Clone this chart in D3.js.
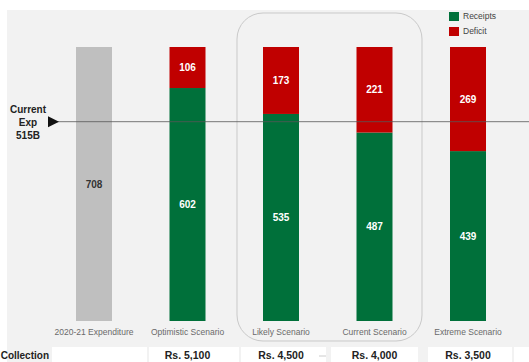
<!DOCTYPE html>
<html>
<head>
<meta charset="utf-8">
<script src="https://cdn.jsdelivr.net/npm/d3@7"></script>
<style>
  html, body { margin: 0; padding: 0; background: #ffffff; }
  svg { display: block; font-family: Arial, "Liberation Sans", sans-serif; }
</style>
</head>
<body>
<svg id="chart" width="529" height="362"></svg>
<script>
// Fiscal scenarios: receipts vs deficit (billions)
const categories = ["2020-21 Expenditure", "Optimistic Scenario", "Likely Scenario", "Current Scenario", "Extreme Scenario"];
const expenditure = [708, 0, 0, 0, 0];
const receipts = [0, 602, 535, 487, 439];
const deficit = [0, 106, 173, 221, 269];
const collection = ["", "Rs. 5,100", "Rs. 4,500", "Rs. 4,000", "Rs. 3,500"];
const currentExp = 515;
const legendItems = ["Receipts", "Deficit"];

const colors = { expenditure: "#bfbfbf", receipts: "#00703a", deficit: "#c00000" };

const svg = d3.select("#chart");
const W = 529, H = 362;

// panel background
svg.append("rect").attr("x", 7).attr("y", 10).attr("width", W - 7).attr("height", H - 10).attr("fill", "#f2f2f2");

const x = d3.scaleBand().domain(categories).range([47.25, 514.75]).paddingInner(0.615).paddingOuter(0.3075);
const y = d3.scaleLinear().domain([0, 708]).range([321, 47]);

// highlight box around the likely and current scenarios
svg.append("rect")
  .attr("x", 237).attr("y", 13).attr("width", 185).attr("height", 328)
  .attr("rx", 26).attr("ry", 26)
  .attr("fill", "none").attr("stroke", "#c9c9c9").attr("stroke-width", 1);

const table = categories.map((c, i) => ({ cat: c, expenditure: expenditure[i], receipts: receipts[i], deficit: deficit[i] }));
const keys = ["expenditure", "receipts", "deficit"];
const stacked = d3.stack().keys(keys)(table);

const layers = svg.append("g").selectAll("g").data(stacked).join("g").attr("fill", d => colors[d.key]);
layers.selectAll("rect").data(d => d.filter(p => p[1] > p[0])).join("rect")
  .attr("x", d => x(d.data.cat))
  .attr("width", x.bandwidth())
  .attr("y", d => y(d[1]))
  .attr("height", d => y(d[0]) - y(d[1]));

// segment value labels
stacked.forEach(layer => {
  svg.append("g").selectAll("text").data(layer.filter(p => p[1] > p[0])).join("text")
    .attr("x", d => x(d.data.cat) + x.bandwidth() / 2)
    .attr("y", d => (y(d[0]) + y(d[1])) / 2)
    .attr("dy", "0.35em")
    .attr("text-anchor", "middle")
    .attr("font-size", 10).attr("font-weight", "bold")
    .attr("fill", layer.key === "expenditure" ? "#333333" : "#ffffff")
    .text(d => d[1] - d[0]);
});

// current expenditure reference line
const yExp = y(currentExp);
svg.append("line").attr("x1", 55).attr("x2", W).attr("y1", yExp).attr("y2", yExp)
  .attr("stroke", "#555555").attr("stroke-width", 0.8);
svg.append("path")
  .attr("d", `M48,${yExp - 5.5} L59,${yExp} L48,${yExp + 5.5} Z`)
  .attr("fill", "#111111");
const expLabel = svg.append("text").attr("text-anchor", "middle").attr("font-size", 10)
  .attr("font-weight", "bold").attr("fill", "#222222");
["Current", "Exp", currentExp + "B"].forEach((t, i) => {
  expLabel.append("tspan").attr("x", 28).attr("y", yExp - 9 + i * 13).text(t);
});

// category axis labels
const xAxis = d3.axisBottom(x).tickSize(0).tickPadding(0);
const axisG = svg.append("g").attr("transform", "translate(0,329)").call(xAxis);
axisG.select(".domain").remove();
axisG.selectAll("text").attr("font-size", 8.5).attr("fill", "#6a6a6a").attr("font-family", "Arial, 'Liberation Sans', sans-serif");

// collection row
const cells = [[52, 147], [149, 239], [241, 326], [331, 418], [428, 512], [514, 529]];
svg.append("g").selectAll("rect").data(cells).join("rect")
  .attr("x", d => d[0]).attr("width", d => d[1] - d[0])
  .attr("y", 347).attr("height", 15).attr("fill", "#ffffff");
svg.append("line").attr("x1", 319).attr("x2", 326).attr("y1", 356).attr("y2", 356).attr("stroke", "#cccccc");
svg.append("text").attr("x", 49).attr("y", 359).attr("text-anchor", "end")
  .attr("font-size", 10).attr("font-weight", "bold").attr("fill", "#222222").text("Collection");
svg.append("g").selectAll("text").data(categories.map((c, i) => ({ c, v: collection[i] })).filter(d => d.v)).join("text")
  .attr("x", d => x(d.c) + x.bandwidth() / 2)
  .attr("y", 359)
  .attr("text-anchor", "middle")
  .attr("font-size", 10.5).attr("font-weight", "bold").attr("fill", "#222222")
  .text(d => d.v);

// legend
const legend = svg.append("g").attr("transform", "translate(449,12)");
legendItems.forEach((name, i) => {
  const g = legend.append("g").attr("transform", `translate(0,${i * 15})`);
  g.append("rect").attr("width", 10).attr("height", 9).attr("fill", i === 0 ? colors.receipts : colors.deficit);
  g.append("text").attr("x", 14).attr("y", 4.5).attr("dy", "0.35em")
    .attr("font-size", 8.5).attr("fill", "#444444").text(name);
});
</script>
</body>
</html>
